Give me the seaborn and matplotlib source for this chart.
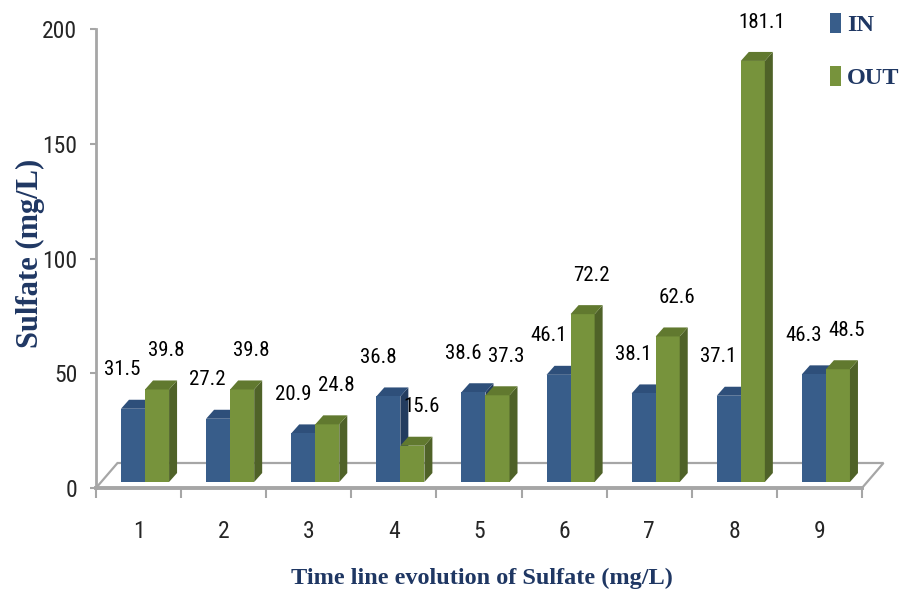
import numpy as np
import pandas as pd
import matplotlib
matplotlib.use("Agg")
import matplotlib.pyplot as plt
import seaborn as sns
from matplotlib.patches import Polygon, Patch
from matplotlib.transforms import IdentityTransform
from matplotlib import font_manager

# ---- data -------------------------------------------------------------
periods = ["1", "2", "3", "4", "5", "6", "7", "8", "9"]
sulfate_in = [31.5, 27.2, 20.9, 36.8, 38.6, 46.1, 38.1, 37.1, 46.3]
sulfate_out = [39.8, 39.8, 24.8, 15.6, 37.3, 72.2, 62.6, 181.1, 48.5]
series_names = ["IN", "OUT"]
y_ticks = [0, 50, 100, 150, 200]

df = pd.DataFrame({
    "Period": periods * 2,
    "Series": [series_names[0]] * len(periods) + [series_names[1]] * len(periods),
    "Sulfate": sulfate_in + sulfate_out,
})

# ---- style ------------------------------------------------------------
sns.set_style("white")
installed = {f.name for f in font_manager.fontManager.ttflist}
num_font = next((n for n in ["Liberation Sans Narrow", "Roboto Condensed",
                             "Liberation Sans"] if n in installed), "DejaVu Sans")
serif_font = "Liberation Serif" if "Liberation Serif" in installed else "DejaVu Serif"
plt.rcParams["font.family"] = [num_font, "DejaVu Sans"]

front = {"IN": "#385D8A", "OUT": "#77933C"}
side = {"IN": "#233C5F", "OUT": "#4F6228"}
top = {"IN": "#2E4F7A", "OUT": "#61792F"}
grey = "#A6A6A6"
navy = "#1F3763"

FIG_W, FIG_H = 904, 602
fig = plt.figure(figsize=(FIG_W / 100, FIG_H / 100), dpi=100)
fig.patch.set_facecolor("white")

# plot rectangle (pixels): left 96, right 862, top 29, bottom 488
pos = [96 / FIG_W, 1 - 488 / FIG_H, 766 / FIG_W, 459 / FIG_H]
ax = fig.add_axes(pos)          # wall: spines, ticks, floor
ax_bar = fig.add_axes(pos)      # bars in the front plane

# ---- bars -------------------------------------------------------------
sns.barplot(data=df, x="Period", y="Sulfate", hue="Series", order=periods,
            hue_order=series_names, palette=front, saturation=1,
            width=0.565, linewidth=0, errorbar=None, legend=False, ax=ax_bar)

front_scale = 2.325  # px per mg/L on the front plane
ax_bar.set_xlim(-0.5, 8.5)
ax_bar.set_ylim(-6 / front_scale, 453 / front_scale)
ax_bar.axis("off")

DX, DY = 8, 9  # bar depth in pixels
shift = 0.076
for name, container in zip(series_names, ax_bar.containers):
    zface = 1.5 if name == "IN" else 2.5
    for bar in container:
        bar.set_x(bar.get_x() + shift)
        bar.set_zorder(2)
        bx, bw, bh = bar.get_x(), bar.get_width(), bar.get_height()
        x0, y0 = ax_bar.transData.transform((bx, 0))
        x1, y1 = ax_bar.transData.transform((bx + bw, bh))
        top_face = [(x0, y1), (x1, y1), (x1 + DX, y1 + DY), (x0 + DX, y1 + DY)]
        side_face = [(x1, y0), (x1, y1), (x1 + DX, y1 + DY), (x1 + DX, y0 + DY)]
        for pts, col in ((side_face, side[name]), (top_face, top[name])):
            ax_bar.add_patch(Polygon(pts, closed=True, facecolor=col,
                                     edgecolor="none", transform=IdentityTransform(),
                                     zorder=zface, clip_on=False))

# value labels above each bar
label_dx = {"IN": -7.5, "OUT": 6.5}
for name, container, values in zip(series_names, ax_bar.containers,
                                   [sulfate_in, sulfate_out]):
    for bar, v in zip(container, values):
        ax_bar.annotate(f"{v:.1f}", (bar.get_x() + bar.get_width() / 2, v),
                        xytext=(label_dx[name], 28), textcoords="offset points",
                        ha="center", va="center", fontsize=15,
                        family=[num_font, "DejaVu Sans"], color="black",
                        annotation_clip=False, zorder=4)

# ---- wall axis ---------------------------------------------------------
ax.set_xlim(-0.5, 8.5)
ax.set_ylim(0, 200)
ax.set_facecolor("white")

# floor of the 3D plot
fl = ax.transAxes.transform((0, 0))
fr = ax.transAxes.transform((1, 0))
FDX, FDY = 21.5, 25
floor = [tuple(fl), tuple(fr), (fr[0] + FDX, fr[1] + FDY), (fl[0] + FDX, fl[1] + FDY)]
ax.add_patch(Polygon(floor, closed=True, facecolor="white", edgecolor=grey,
                     linewidth=1.6, transform=IdentityTransform(), zorder=0.5,
                     clip_on=False))

for s in ("top", "right"):
    ax.spines[s].set_visible(False)
ax.spines["left"].set_color(grey)
ax.spines["left"].set_linewidth(2)
ax.spines["bottom"].set_color(grey)
ax.spines["bottom"].set_linewidth(2.8)
ax.spines["bottom"].set_zorder(3)

ax.set_yticks(y_ticks)
ax.set_yticklabels([str(t) for t in y_ticks], fontsize=17,
                   family=[num_font, "DejaVu Sans"])
ax.set_xticks(np.arange(-0.5, 9.0, 1.0))
ax.set_xticklabels([])
ax.set_xticks(range(len(periods)), labels=periods, minor=True,
              fontsize=17, family=[num_font, "DejaVu Sans"])
ax.tick_params(axis="x", which="major", bottom=True, length=7.5, width=1.5,
               color=grey, direction="out")
ax.tick_params(axis="x", which="minor", bottom=True, length=0, pad=23)
ax.tick_params(axis="y", left=True, length=4.5, width=1.5, color=grey,
               direction="out", pad=9)

ax.set_xlabel("Time line evolution of Sulfate (mg/L)", fontsize=17.5,
              fontweight="bold", family=serif_font, color=navy)
ax.xaxis.label.set_va("center")
ax.xaxis.set_label_coords(0.504, -0.196)
ax.set_ylabel("Sulfate (mg/L)", fontsize=22, fontweight="bold",
              family=serif_font, color=navy)
ax.yaxis.label.set_va("center")
ax.yaxis.set_label_coords(-0.086, 0.512)

# ---- legend -------------------------------------------------------------
handles = [Patch(facecolor=front[n], edgecolor="none") for n in series_names]
leg = ax_bar.legend(handles, series_names, loc="upper left",
                    bbox_to_anchor=(830 / FIG_W, 1 - 13 / FIG_H),
                    bbox_transform=fig.transFigure, frameon=False,
                    borderpad=0, borderaxespad=0, handlelength=0.45,
                    handleheight=0.9, handletextpad=0.25, labelspacing=1.2,
                    prop={"family": serif_font, "weight": "bold", "size": 17.5})
for t in leg.get_texts():
    t.set_color(navy)

fig.savefig("out.png", dpi=100, facecolor="white")
